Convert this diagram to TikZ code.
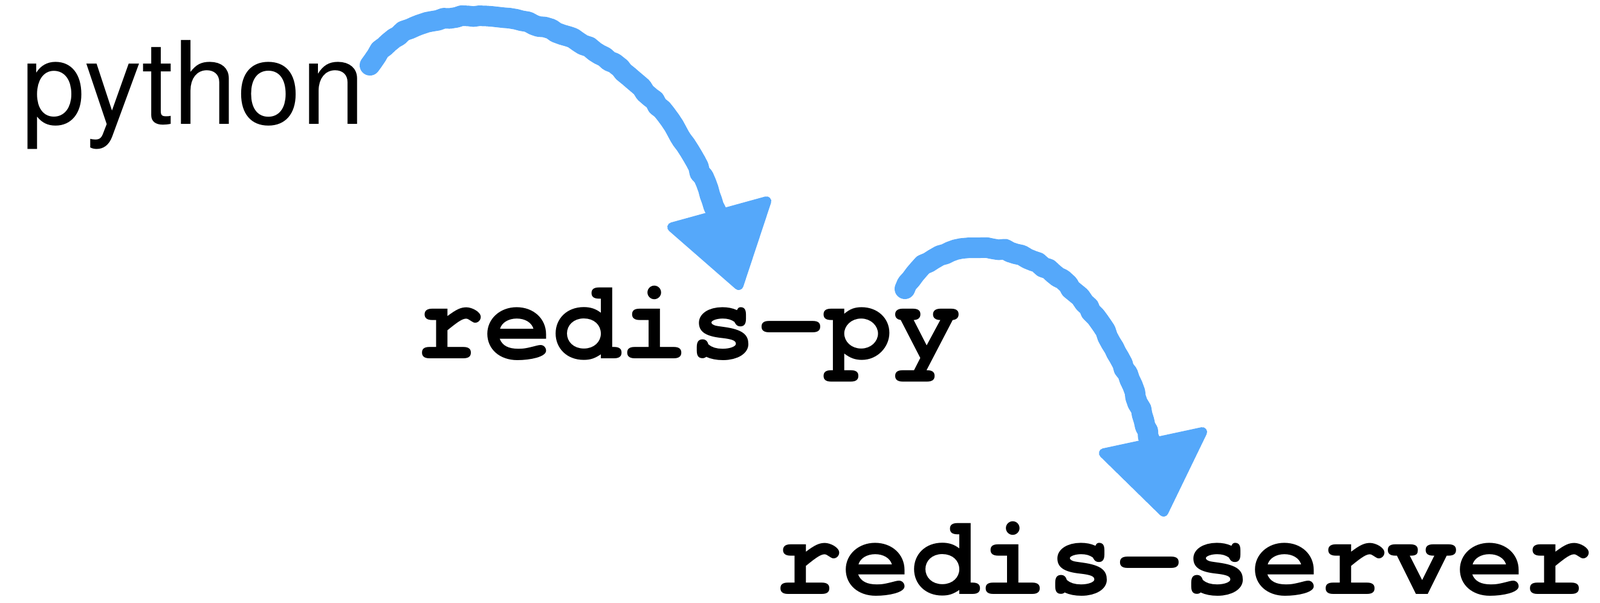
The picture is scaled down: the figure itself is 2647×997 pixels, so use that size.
\documentclass[tikz,border=0pt]{standalone}
\usepackage{fontspec}
\newfontfamily\pyfont{TeX Gyre Heros}
\newfontfamily\codefont{texgyrecursor}[Extension=.otf, UprightFont=*-bold, BoldFont=*-bold]
\usetikzlibrary{decorations.pathmorphing}
\definecolor{crayon}{RGB}{85,168,250}
\tikzset{
  lbl/.style={inner sep=0pt, outer sep=0pt, anchor=base west, text=black},
  pylbl/.style={lbl, font=\pyfont\fontsize{47.6}{50}\selectfont},
  codelbl/.style={lbl, font=\codefont\fontsize{47}{50}\selectfont},
  shaft/.style={draw=crayon, line width=8.5pt, line cap=round, line join=round,
    decorate, decoration={random steps, segment length=2.5pt, amplitude=0.4pt}},
  head/.style={fill=crayon, draw=crayon, line width=4pt, line join=round}
}
\begin{document}
\begin{tikzpicture}[x=0.25pt,y=-0.25pt]
\useasboundingbox (0,0) rectangle (2647,997);
\node[pylbl] (py) at (36,205) {python};
\node[codelbl] (rpy) at (688,593) {redis-py};
\node[codelbl] (rsrv) at (1281,983) {redis-server};
% arrow python -> redis-py
\coordinate (a1s) at (612,108);
\coordinate (a1e) at (1185,350);
\draw[shaft] (a1s) .. controls (680,-30) and (1060,-20) .. (a1e);
\coordinate (h1a) at (1112,376);
\coordinate (h1b) at (1268,333);
\coordinate (h1t) at (1222,472);
\path[head] (h1a) -- (h1b) -- (h1t) -- cycle;
% arrow redis-py -> redis-server
\coordinate (a2s) at (1497,478);
\coordinate (a2e) at (1905,740);
\draw[shaft] (a2s) .. controls (1540,380) and (1800,330) .. (a2e);
\coordinate (h2a) at (1826,750);
\coordinate (h2b) at (1989,715);
\coordinate (h2t) at (1925,847);
\path[head] (h2a) -- (h2b) -- (h2t) -- cycle;
\end{tikzpicture}
\end{document}
